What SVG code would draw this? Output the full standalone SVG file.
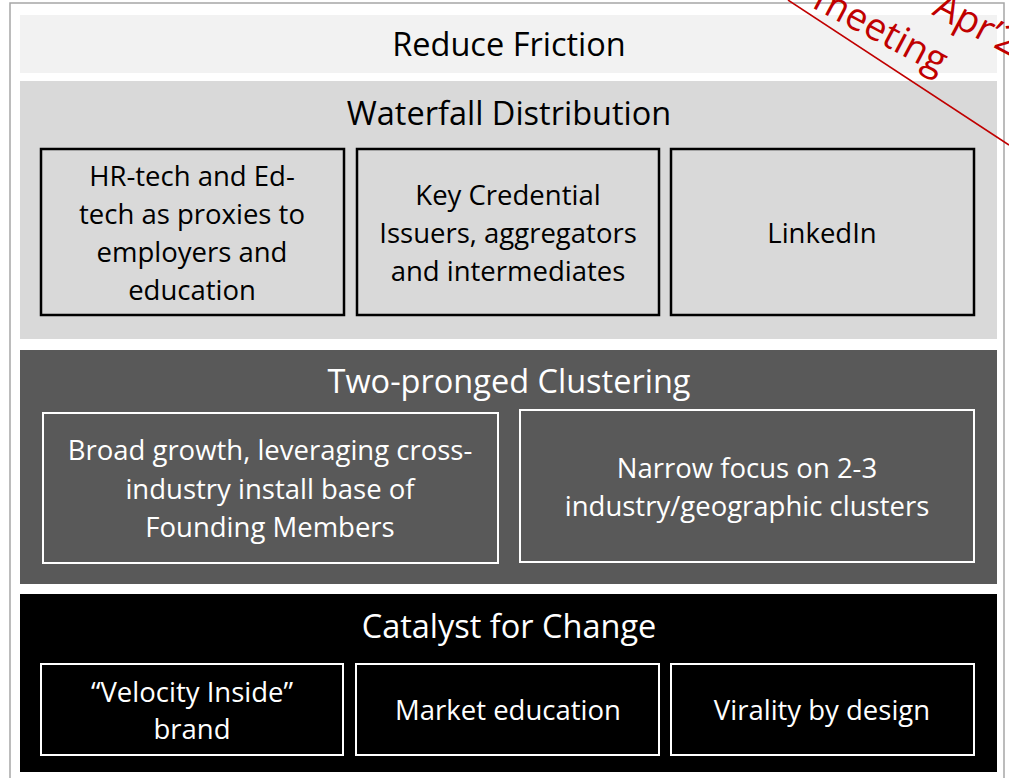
<svg xmlns="http://www.w3.org/2000/svg" width="1009" height="778" viewBox="0 0 1009 778">
<style>
  text { font-family: "Open Sans", "Liberation Sans", sans-serif; text-anchor: middle; }
  .title { font-size: 32.5px; }
  .lbl { font-size: 27.5px; }
  .dark { fill: #000000; }
  .light { fill: #ffffff; }
  .boxd { fill: none; stroke: #000000; stroke-width: 2.5; }
  .boxl { fill: none; stroke: #ffffff; stroke-width: 2; }
  .stamp { fill: #c00000; font-size: 38px; text-anchor: start; }
</style>
<rect x="0" y="0" width="1009" height="778" fill="#ffffff"/>
<rect x="10" y="3" width="994" height="790" fill="none" stroke="#a6a6a6" stroke-width="1.5"/>

<g id="reduce-friction">
  <rect x="20" y="15" width="977" height="58" fill="#f2f2f2"/>
  <text class="title dark" x="509" y="56">Reduce Friction</text>
</g>

<g id="waterfall-distribution">
  <rect x="20" y="81" width="977" height="258" fill="#d9d9d9"/>
  <text class="title dark" x="509" y="125">Waterfall Distribution</text>
</g>
<g id="hr-tech">
  <rect class="boxd" x="41" y="149" width="303" height="166"/>
  <text class="lbl dark" x="192" y="186">HR-tech and Ed-</text>
  <text class="lbl dark" x="192" y="224">tech as proxies to</text>
  <text class="lbl dark" x="192" y="262">employers and</text>
  <text class="lbl dark" x="192" y="300">education</text>
</g>
<g id="key-credential">
  <rect class="boxd" x="357" y="149" width="302" height="166"/>
  <text class="lbl dark" x="508" y="205">Key Credential</text>
  <text class="lbl dark" x="508" y="243">Issuers, aggregators</text>
  <text class="lbl dark" x="508" y="281">and intermediates</text>
</g>
<g id="linkedin">
  <rect class="boxd" x="671" y="149" width="303" height="166"/>
  <text class="lbl dark" x="822" y="243">LinkedIn</text>
</g>

<g id="two-pronged-clustering">
  <rect x="20" y="350" width="977" height="234" fill="#595959"/>
  <text class="title light" x="509" y="393">Two-pronged Clustering</text>
</g>
<g id="broad-growth">
  <rect class="boxl" x="43" y="413" width="455" height="150"/>
  <text class="lbl light" x="270" y="460">Broad growth, leveraging cross-</text>
  <text class="lbl light" x="270" y="499">industry install base of</text>
  <text class="lbl light" x="270" y="537">Founding Members</text>
</g>
<g id="narrow-focus">
  <rect class="boxl" x="520" y="410" width="454" height="152"/>
  <text class="lbl light" x="747" y="478">Narrow focus on 2-3</text>
  <text class="lbl light" x="747" y="516">industry/geographic clusters</text>
</g>

<g id="catalyst-for-change">
  <rect x="20" y="594" width="977" height="178" fill="#000000"/>
  <text class="title light" x="509" y="638">Catalyst for Change</text>
</g>
<g id="velocity-inside">
  <rect class="boxl" x="41" y="664" width="302" height="91"/>
  <text class="lbl light" x="192" y="702">“Velocity Inside”</text>
  <text class="lbl light" x="192" y="739">brand</text>
</g>
<g id="market-education">
  <rect class="boxl" x="356" y="664" width="303" height="91"/>
  <text class="lbl light" x="508" y="720">Market education</text>
</g>
<g id="virality">
  <rect class="boxl" x="671" y="664" width="303" height="91"/>
  <text class="lbl light" x="822" y="720">Virality by design</text>
</g>

<g id="connectors">
  <line x1="788" y1="0" x2="1009" y2="145" stroke="#c00000" stroke-width="1.5"/>
</g>
<g id="stamp">
  <text class="stamp" transform="translate(931,14) rotate(28)">Apr’2</text>
  <text class="stamp" transform="translate(811,7) rotate(28)">meeting</text>
</g>
</svg>
